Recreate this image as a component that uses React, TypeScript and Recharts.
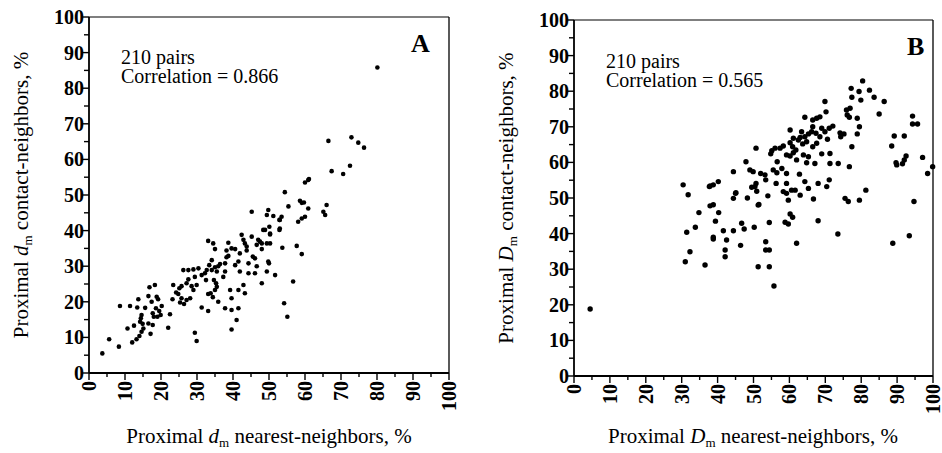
import React from 'react';
import { ScatterChart, Scatter, XAxis, YAxis, ReferenceLine } from 'recharts';

const SERIF = "'Liberation Serif', 'Times New Roman', serif";

// ticks every 5, labelled every 10
const axisTicks = [0, 5, 10, 15, 20, 25, 30, 35, 40, 45, 50, 55, 60, 65, 70, 75, 80, 85, 90, 95, 100];

// panel A: proximal d_m, nearest-neighbors (x) vs contact-neighbors (y)
const panelAPoints: [number, number][] = [
  [3.7, 5.5], [5.6, 9.5], [8.3, 7.4], [8.6, 18.8], [11.4, 18.8], [10.7, 12.5], [13.7, 20.7], [13.4, 18.4],
  [12.5, 13.3], [12, 8.6], [13.2, 9.5], [14, 10.4], [14.6, 16.3], [14.4, 15.4], [14.2, 14.4], [14.9, 13.8],
  [15.1, 12.5], [14.6, 11.6], [15.6, 18.3], [16.5, 21.6], [16.8, 24.1], [18.3, 24.7], [17.4, 20], [18.8, 21.4],
  [19.2, 20.7], [18.6, 18.2], [20.2, 18.8], [19.5, 17.4], [17.7, 16.8], [18, 15.8], [16.5, 13.9], [17.7, 13.5],
  [17.1, 11], [19, 15.8], [19.9, 16.3], [22.5, 16.5], [22, 12.7], [23.2, 20.7], [23.4, 24.7], [25.1, 23.8],
  [24.2, 22.6], [24.8, 22.2], [25.7, 21], [25.3, 19.8], [26.4, 19.4], [25.7, 24.4], [27.1, 25.2], [27.6, 26.3],
  [26.2, 28.9], [27.6, 28.9], [29, 29.1], [30.4, 29.4], [29.4, 27], [29.9, 24.7], [28.5, 24.4], [29, 23.3],
  [28.1, 21], [27.1, 20.5], [29.4, 11.3], [29.9, 9], [31.3, 18.4], [33.1, 37.1], [33.1, 17.4], [32.5, 26.1],
  [31.3, 27.5], [32.2, 28], [32.7, 28.9], [34.1, 31.7], [34.5, 36.4], [35, 34.8], [33.4, 30.3], [34.1, 28.9],
  [33.1, 22.2], [33.8, 22.4], [34.4, 21.3], [35, 23.3], [35.5, 24.2], [35.3, 25.2], [35.9, 20], [34.7, 26.1],
  [35.5, 28.5], [35.9, 30], [35, 29.7], [36.4, 30.6], [37.8, 30.8], [38.7, 32.9], [38.2, 34.4], [38.7, 36.6],
  [39.6, 35], [40.6, 34.8], [38.2, 32.5], [37.8, 28.5], [37.3, 27], [39.2, 23.3], [39.6, 21], [37.8, 18.2],
  [39.6, 17.7], [41.5, 18.2], [41, 14.9], [39.6, 12.2], [41.5, 23.3], [42.9, 24.7], [43.3, 22.4], [41.9, 28.5],
  [40.6, 30.3], [41.5, 31.3], [41.9, 33.6], [42.4, 38.8], [42.9, 37.4], [43.3, 36.4], [43.8, 35.5], [43.8, 34.4],
  [44.3, 30.8], [44.3, 28], [45.2, 45.3], [45.2, 38.3], [45.5, 32.7], [46.1, 32.2], [46.6, 36], [47, 37.4],
  [46.6, 30], [46.1, 28], [48, 25.2], [48, 36.4], [48.4, 40.2], [49.4, 44.4], [49.8, 45.8], [50.1, 41.1],
  [49.4, 36.4], [50.3, 39.2], [50.3, 36.4], [49.8, 31.3], [50, 30.8], [49.4, 28.5], [51.2, 44.1], [51.7, 27.5],
  [52.9, 43], [52.9, 40.2], [60, 53.5], [60.9, 54.2], [54.4, 50.8], [55.4, 46.8], [58.6, 48.4], [59.1, 47.8],
  [59.7, 47.9], [60.9, 46.2], [65.1, 45.3], [65.6, 44.4], [66, 47.2], [53.5, 43.9], [53, 43], [48.9, 40.2],
  [50.3, 38.9], [53, 40.6], [58.1, 42.5], [59.1, 43.4], [60, 43.9], [47.5, 36.9], [48, 34.8], [53.7, 35.2],
  [57.7, 35.7], [59.1, 33.4], [56.7, 25.7], [54.2, 19.6], [55.1, 15.8], [80.1, 85.8], [66.5, 65.2], [72.9, 66.2],
  [74.8, 64.7], [76.4, 63.3], [67.4, 56.7], [70.6, 55.9], [72.5, 58.2], [61.1, 54.5],
];

// panel B: proximal D_m, nearest-neighbors (x) vs contact-neighbors (y)
const panelBPoints: [number, number][] = [
  [4.5, 18.8], [30.4, 53.7], [31.8, 50.9], [37.9, 53.4], [38.8, 53.7], [40.2, 54.6], [34.8, 45.9], [37.9, 47.8],
  [38.8, 48.1], [40.3, 45.9], [39.4, 43.5], [31.4, 40.4], [33.8, 41.8], [32.3, 34.9], [31, 32.1], [36.5, 31.2],
  [38.8, 39], [38.8, 38.5], [41.6, 40.8], [42.5, 38.2], [42.1, 35.4], [42.1, 33.5], [44.4, 40.8], [44.4, 49.9],
  [45, 51.3], [46.7, 42.9], [47.4, 41.3], [46.4, 36.7], [48.3, 50], [49.5, 53], [50.7, 54.1], [50.9, 51.9],
  [51.3, 48], [50.2, 41.8], [51.3, 30.7], [51.5, 48.2], [53.4, 37.7], [53.4, 35.4], [54.4, 35.4], [54.4, 30.7],
  [55.7, 25.3], [54.4, 43.1], [54, 50.6], [56.3, 54.1], [53.4, 55.1], [58.3, 51.8], [59.2, 51.3], [59.7, 49.4],
  [60.6, 52.2], [61.6, 52.2], [59.2, 54.1], [63, 50.8], [64.3, 54.6], [65.3, 52.7], [66.7, 49.7], [68, 54.1],
  [70.4, 53.2], [71.1, 55.1], [58.8, 43.2], [59.7, 42.7], [60.2, 45.5], [60.9, 44.6], [62, 37.3], [68, 43.6],
  [73.5, 39.9], [75.5, 49.9], [76.4, 49], [79.5, 49.4], [81.3, 52.2], [88.8, 37.3], [93.4, 39.4], [94.7, 49],
  [80.4, 82.9], [77.2, 80.8], [79.4, 79.9], [82.3, 80.3], [77.4, 78.3], [79.9, 77.5], [83.6, 78.3], [86.4, 77.1],
  [75.9, 74.7], [76.9, 75.2], [76.1, 73.3], [76.7, 72.7], [78.9, 72.4], [85, 73.6], [69.9, 77.1], [70.2, 74.2],
  [68.5, 72.8], [67.6, 72.4], [66.5, 71.9], [64.3, 72.7], [69, 69.6], [72.1, 70.2], [74.1, 68.3], [75.2, 68],
  [79.5, 70], [78.9, 68], [74.3, 67.2], [77.4, 64.4], [66.5, 70], [66.2, 68.6], [67.4, 68.2], [65.3, 68],
  [64.3, 67.2], [63.4, 68.6], [63, 67], [60.2, 69.1], [68.5, 67.2], [69.9, 68.6], [71.1, 69.6], [70.6, 66.5],
  [67.6, 65.4], [66.5, 64.4], [64.8, 65.8], [63.7, 65.2], [62.5, 66.3], [61.1, 66.8], [60.2, 65.5], [60.9, 64.4],
  [61.8, 63.5], [58.3, 64.6], [57.4, 64], [56, 64], [55.1, 63.3], [54.8, 62.4], [50.7, 64], [59.2, 62.1],
  [60.2, 61.8], [61.1, 62.7], [63.9, 62.1], [65.3, 61.6], [69, 62.4], [71.3, 62.5], [62, 60.7], [64.8, 59.9],
  [67.1, 59.7], [71.3, 59.7], [73.6, 59.7], [76.7, 58.8], [56.6, 60.2], [47.9, 60.2], [49, 57.9], [49.9, 57.4],
  [52, 56.9], [53.2, 56.5], [55.5, 57.9], [56.5, 57.1], [57.9, 58.3], [59.2, 56.9], [62.8, 56.7], [89.2, 67.4],
  [92, 67.4], [88.5, 64.6], [94.3, 73], [94.3, 70.8], [95.7, 70.8], [92.5, 61.8], [92, 60.7], [91.5, 59.6],
  [89.7, 59.9], [89.9, 59.3], [97.1, 61.4], [98.5, 56.9], [99.9, 58.8], [44.4, 57.4], [37.7, 53.2], [45.1, 51.5],
  [50.4, 53.2],
];

const XTick = (props: any) => {
  const { x, y, payload } = props;
  const major = payload.value % 10 === 0;
  return (
    <g>
      <line x1={x} x2={x} y1={y} y2={y + (major ? 7 : 4)} stroke="#000" strokeWidth={1.4} />
      {major && (
        <text
          x={x}
          y={y + 8}
          dy="0.35em"
          textAnchor="end"
          transform={`rotate(-90 ${x} ${y + 8})`}
          style={{ fontFamily: SERIF }}
          fontWeight="bold"
          fontSize={20}
          fill="#000"
        >
          {payload.value}
        </text>
      )}
    </g>
  );
};

const YTick = (props: any) => {
  const { x, y, payload } = props;
  const major = payload.value % 10 === 0;
  return (
    <g>
      <line x1={x} x2={x - (major ? 7 : 5)} y1={y} y2={y} stroke="#000" strokeWidth={1.4} />
      {major && (
        <text x={x - 5} y={y} dy="0.35em" textAnchor="end" style={{ fontFamily: SERIF }} fontWeight="bold" fontSize={20} fill="#000">
          {payload.value}
        </text>
      )}
    </g>
  );
};

const AxisTitle = ({ x, y, vertical, sym, rest }: { x: number; y: number; vertical?: boolean; sym: string; rest: string }) => (
  <text
    x={x}
    y={y}
    textAnchor="middle"
    transform={vertical ? `rotate(-90 ${x} ${y})` : undefined}
    style={{ fontFamily: SERIF }}
    fontSize={21}
    fill="#000"
  >
    <tspan>Proximal </tspan>
    <tspan fontStyle="italic">{sym}</tspan>
    <tspan fontSize={13} dy={4}>m</tspan>
    <tspan dy={-4}>{rest}</tspan>
  </text>
);

const dot = (r: number) => (props: any) => <circle cx={props.cx} cy={props.cy} r={r} fill="#000" />;

interface PanelProps {
  left: number;
  points: [number, number][];
  sym: string;
  letter: string;
  corr: string;
  yAxisWidth: number;
  xAxisHeight: number;
  top: number;
  right: number;
  yTitleX: number;
  xTitleX: number;
  noteX: number;
  noteY: number;
  letterX: number;
  letterY: number;
  r: number;
}

const Panel: React.FC<PanelProps> = (p) => {
  const data = p.points.map(([x, y]) => ({ x, y }));
  const plotTop = p.top;
  const plotBottom = 453 - p.xAxisHeight;
  return (
    <div style={{ position: 'absolute', left: p.left, top: 0 }}>
      <ScatterChart width={471} height={453} margin={{ top: p.top, right: p.right, bottom: 0, left: 0 }}>
        <XAxis
          type="number"
          dataKey="x"
          domain={[0, 100]}
          ticks={axisTicks}
          interval={0}
          height={p.xAxisHeight}
          tickLine={false}
          tickSize={0}
          tickMargin={0}
          tick={XTick}
          axisLine={{ stroke: '#000', strokeWidth: 1.8 }}
          label={() => <AxisTitle x={p.xTitleX} y={443} sym={p.sym} rest=" nearest-neighbors, %" />}
        />
        <YAxis
          type="number"
          dataKey="y"
          domain={[0, 100]}
          ticks={axisTicks}
          interval={0}
          width={p.yAxisWidth}
          tickLine={false}
          tickSize={0}
          tickMargin={0}
          tick={YTick}
          axisLine={{ stroke: '#000', strokeWidth: 1.8 }}
          label={() => (
            <AxisTitle x={p.yTitleX} y={(plotTop + plotBottom) / 2} vertical sym={p.sym} rest=" contact-neighbors, %" />
          )}
        />
        <ReferenceLine y={100} stroke="#000" strokeWidth={1.2} />
        <ReferenceLine x={100} stroke="#000" strokeWidth={1.3} />
        <Scatter data={data} shape={dot(p.r)} isAnimationActive={false} />
        <text x={p.noteX} y={p.noteY} style={{ fontFamily: SERIF }} fontSize={20} fill="#000">
          <tspan x={p.noteX}>210 pairs</tspan>
          <tspan x={p.noteX} dy={19}>{`Correlation = ${p.corr}`}</tspan>
        </text>
        <text x={p.letterX} y={p.letterY} style={{ fontFamily: SERIF }} fontWeight="bold" fontSize={26} fill="#000">{p.letter}</text>
      </ScatterChart>
    </div>
  );
};

export default function App() {
  return (
    <div style={{ position: 'absolute', left: 0, top: 0, width: 942, height: 453, background: '#fff' }}>
      <Panel
        left={0}
        points={panelAPoints}
        sym="d"
        letter="A"
        corr="0.866"
        yAxisWidth={89}
        xAxisHeight={80}
        top={17}
        right={22}
        yTitleX={28}
        xTitleX={269}
        noteX={121}
        noteY={64}
        letterX={411}
        letterY={52}
        r={2.3}
      />
      <Panel
        left={471}
        points={panelBPoints}
        sym="D"
        letter="B"
        corr="0.565"
        yAxisWidth={103}
        xAxisHeight={77}
        top={20}
        right={9}
        yTitleX={42}
        xTitleX={282}
        noteX={135}
        noteY={68}
        letterX={436}
        letterY={55}
        r={2.7}
      />
    </div>
  );
}
